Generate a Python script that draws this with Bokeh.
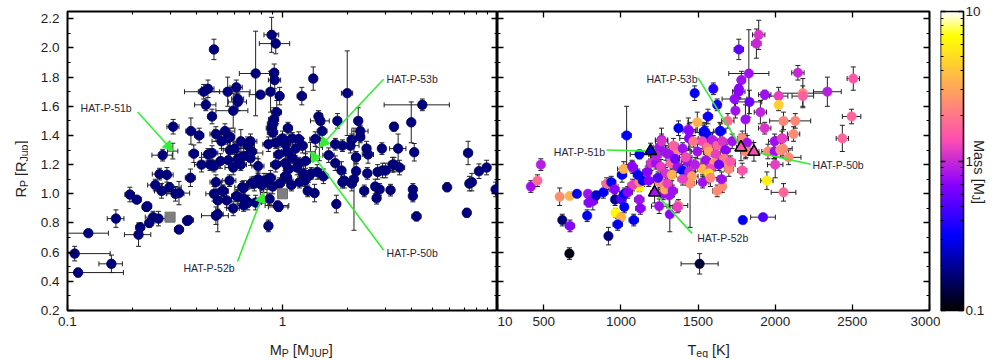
import math
import numpy as np
from bokeh.plotting import figure
from bokeh.layouts import row, column
from bokeh.models import (ColumnDataSource, Whisker, TeeHead, Label, LinearAxis, LogAxis,
                          Range1d, FixedTicker, NumeralTickFormatter, Arrow, NormalHead,
                          LinearColorMapper)
from bokeh.transform import log_cmap
from bokeh.embed import file_html
from bokeh.resources import INLINE

# ---------------- data ----------------
# left panel: radius vs mass of known transiting planets
mass_left = [
    0.89, 0.93, 0.48, 0.75, 0.915, 0.92, 1.39, 2.0, 1.23, 0.45, 0.43, 0.556, 0.61, 0.62, 0.62, 0.79, 0.88, 0.97, 0.44, 4.47,
    0.47, 0.59, 0.94, 0.91, 1.47, 1.50, 1.8, 2.25, 3.97, 0.31, 0.375, 0.41, 0.49, 0.54, 0.57, 0.89, 1.06, 3.3, 2.3, 2.3,
    3.45, 4.1, 7.3, 8.9, 8.2, 0.277, 0.387, 0.268, 0.29, 0.256, 0.274, 0.298, 0.318, 0.33, 0.373, 0.233, 0.25, 0.365,
    0.555, 0.687, 0.42, 0.47, 0.46, 0.515, 0.48, 0.56, 0.59, 0.64, 0.62, 0.66, 0.71, 0.69, 0.72, 0.77, 0.57, 0.45, 0.71, 0.49,
    0.567, 0.53, 0.48, 0.5, 0.55, 0.59, 0.62, 0.66, 0.68, 0.74, 0.77, 0.82,
    0.9, 1.76, 1.9, 2.07, 2.1, 2.46, 1.64, 1.76, 1.88, 2.2, 2.48, 2.77, 2.92, 3.25, 1.45, 1.36, 1.55, 1.94, 2.1, 2.4,
    2.83, 3.18, 2.74, 1.78, 1.31, 1.41, 0.96, 1.27,
    0.86, 0.93, 1.03, 0.96, 1.05, 1.15, 1.24, 1.11, 1.03, 1.19, 1.28, 0.93, 1.07, 1.17, 1.03, 0.86, 0.90, 1.05, 1.25, 1.32,
    0.90, 1.0, 1.11, 1.19, 1.42, 1.53,
    0.52, 0.64, 0.60, 0.71, 2.5, 2.2, 3.3, 3.5, 3.02, 2.9, 7.4,
    0.108, 0.112, 0.125, 0.16, 0.168, 0.195, 0.21, 0.214, 0.218, 0.235, 0.24, 0.265, 0.33, 0.36, 0.49, 0.5, 0.525, 0.61,
    0.65, 0.66, 0.66, 0.69, 0.75, 0.72, 0.87, 0.86, 0.95, 1.9, 2.7, 4.04, 4.04, 4.2, 5.83, 7.2, 7.6, 9.8, 2.15,
    0.80, 0.85, 0.88, 0.97, 1.1, 1.2,
]
radius_left = [
    2.09, 2.03, 1.99, 1.825, 1.83, 1.78, 1.79, 1.69, 1.67, 1.72, 1.70, 1.70, 1.73, 1.65, 1.63, 1.68, 1.70, 1.67, 1.61, 1.61,
    1.53, 1.57, 1.56, 1.51, 1.53, 1.50, 1.50, 1.50, 1.49, 1.46, 1.43, 1.40, 1.41, 1.43, 1.39, 1.45, 1.45, 1.46, 1.43, 1.39,
    1.31, 1.285, 1.28, 1.18, 1.155, 1.265, 1.275, 1.135, 1.13, 1.06, 1.02, 1.045, 1.0, 1.005, 1.11, 0.91, 0.84, 0.82,
    1.38, 1.34, 1.20, 1.28, 1.20, 1.225, 1.19, 1.23, 1.18, 1.20, 1.24, 1.26, 1.245, 1.33, 1.29, 1.19, 1.30, 1.27, 1.36, 1.08,
    1.09, 1.02, 1.0, 0.955, 0.955, 0.90, 0.98, 1.04, 0.95, 1.07, 1.10, 1.09,
    1.48, 1.34, 1.33, 1.33, 1.37, 1.31, 1.265, 1.21, 1.16, 1.155, 1.14, 1.15, 1.16, 1.20, 1.15, 1.14, 1.12, 1.09, 1.07, 1.02,
    1.03, 1.025, 0.97, 0.93, 1.02, 1.005, 0.91, 1.09,
    1.34, 1.35, 1.34, 1.27, 1.29, 1.31, 1.33, 1.245, 1.21, 1.21, 1.225, 1.20, 1.17, 1.18, 1.12, 1.10, 1.05, 1.11, 1.14, 1.12,
    1.42, 1.38, 1.38, 1.375, 1.375, 1.43,
    1.36, 1.36, 1.31, 1.28, 1.27, 1.25, 1.20, 1.18, 1.16, 1.31, 1.07,
    0.59, 0.46, 0.73, 0.52, 0.83, 0.995, 0.96, 0.72, 0.77, 0.915, 0.80, 0.83, 0.755, 0.815, 0.85, 0.86, 1.02, 0.985,
    1.045, 0.965, 0.92, 0.94, 0.94, 1.075, 0.965, 0.78, 0.92, 1.08, 1.05, 1.03, 0.985, 0.845, 1.045, 0.87, 1.08, 1.03, 1.10,
    1.06, 1.08, 1.11, 1.07, 1.06, 1.08,
]
mass_err_left = [
    0.07, 0.15, 0.02, 0.12, 0.04, 0.06, 0.05, 0.12, 0.06, 0.03, 0.08, 0.15, 0.04, 0.04, 0.06, 0.09, 0.04, 0.04, 0.05, 1.5,
    0.02, 0.1, 0.05, 0.05, 0.05, 0.15, 0.07, 0.07, 0.15, 0.02, 0.02, 0.02, 0.03, 0.06, 0.03, 0.05, 0.05, 0.1, 0.2, 0.1,
    0.3, 0.1, 0.3, 0.3, 0.3, 0.03, 0.02, 0.02, 0.02, 0.02, 0.02, 0.04, 0.03, 0.04, 0.02, 0.01, 0.02, 0.02,
    0.04, 0.05, 0.03, 0.03, 0.03, 0.04, 0.03, 0.04, 0.05, 0.04, 0.05, 0.05, 0.06, 0.05, 0.04, 0.05, 0.04, 0.03, 0.05, 0.03,
    0.04, 0.03, 0.04, 0.02, 0.03, 0.04, 0.04, 0.03, 0.04, 0.05, 0.05, 0.04,
    0.05, 0.08, 0.06, 0.2, 0.1, 0.1, 0.1, 0.06, 0.05, 0.08, 0.1, 0.08, 0.1, 0.12, 0.06, 0.05, 0.08, 0.1, 0.1, 0.1,
    0.1, 0.1, 0.1, 0.06, 0.05, 0.05, 0.1, 0.05,
    0.05, 0.06, 0.06, 0.05, 0.06, 0.08, 0.06, 0.05, 0.05, 0.06, 0.07, 0.05, 0.06, 0.05, 0.05, 0.04, 0.05, 0.05, 0.06, 0.07,
    0.05, 0.05, 0.06, 0.06, 0.08, 0.08,
    0.05, 0.05, 0.08, 0.1, 0.15, 0.1, 0.15, 0.2, 0.25, 0.1, 0.3,
    0.05, 0.07, 0.03, 0.02, 0.015, 0.01, 0.01, 0.03, 0.01, 0.01, 0.01, 0.02, 0.015, 0.01, 0.07, 0.03, 0.03, 0.03,
    0.05, 0.03, 0.04, 0.03, 0.05, 0.04, 0.04, 0.03, 0.12, 0.06, 0.1, 0.1, 0.1, 0.2, 0.2, 0.15, 0.2, 0.3, 0.05,
    0.04, 0.04, 0.05, 0.05, 0.05, 0.05,
]
radius_err_left = [
    0.12, 0.07, 0.07, 0.29, 0.06, 0.06, 0.08, 0.29, 0.06, 0.06, 0.05, 0.1, 0.05, 0.08, 0.06, 0.02, 0.14, 0.06, 0.04, 0.04,
    0.05, 0.12, 0.08, 0.08, 0.04, 0.05, 0.05, 0.09, 0.14, 0.05, 0.09, 0.05, 0.05, 0.05, 0.06, 0.04, 0.04, 0.03, 0.04, 0.04,
    0.1, 0.06, 0.08, 0.05, 0.05, 0.04, 0.06, 0.04, 0.05, 0.04, 0.05, 0.03, 0.05, 0.08, 0.06, 0.03, 0.04, 0.02,
    0.04, 0.05, 0.05, 0.05, 0.04, 0.05, 0.04, 0.05, 0.05, 0.04, 0.05, 0.06, 0.05, 0.05, 0.04, 0.05, 0.06, 0.04, 0.05, 0.05,
    0.04, 0.04, 0.05, 0.06, 0.05, 0.05, 0.05, 0.05, 0.04, 0.05, 0.05, 0.05,
    0.04, 0.04, 0.04, 0.05, 0.04, 0.05, 0.05, 0.05, 0.06, 0.05, 0.04, 0.05, 0.05, 0.05, 0.05, 0.04, 0.05, 0.05, 0.05, 0.04,
    0.04, 0.04, 0.04, 0.06, 0.04, 0.06, 0.03, 0.04,
    0.05, 0.04, 0.05, 0.05, 0.04, 0.05, 0.05, 0.04, 0.05, 0.04, 0.05, 0.05, 0.04, 0.05, 0.04, 0.04, 0.05, 0.04, 0.05, 0.04,
    0.05, 0.05, 0.04, 0.05, 0.05, 0.05,
    0.05, 0.08, 0.04, 0.05, 0.06, 0.04, 0.05, 0.05, 0.05, 0.04, 0.05,
    0.05, 0.03, 0.02, 0.06, 0.06, 0.05, 0.02, 0.08, 0.03, 0.02, 0.03, 0.05, 0.02, 0.03, 0.06, 0.12, 0.04, 0.04,
    0.04, 0.04, 0.04, 0.05, 0.05, 0.04, 0.04, 0.04, 0.03, 0.04, 0.05, 0.04, 0.04, 0.03, 0.03, 0.03, 0.06, 0.05, 0.35,
    0.04, 0.05, 0.05, 0.04, 0.04, 0.04,
]

# right panel: radius vs equilibrium temperature, coloured by mass
teq_right = [
    1893, 1878, 1764, 1829, 2147, 2506, 1781, 1764, 1764, 1599, 1478, 1932, 2022, 2179, 2179, 2338, 1736, 1833, 1624, 2022,
    1742, 1904, 1564, 1807, 2054, 2130, 2495, 1495, 1373, 1437, 1538, 1553, 1641, 1693, 1932, 2046, 2119, 2435, 1037, 1263,
    1441, 481, 1076, 1007, 1018, 2000, 1946, 2087, 1990, 2050, 1786, 1700, 1810,
    416, 459, 603, 668, 715, 620, 670, 666, 786, 792, 818, 781, 850, 886, 840, 919, 965, 1001, 979, 962,
    1001, 1022, 1022, 951, 908, 1083, 1119, 1119, 1126, 1248, 1274, 1313, 1317, 1285, 1373, 1366, 1448, 1510, 1624, 1657,
    1790, 1921, 2054,
    1120, 1072, 1249, 1292, 1356, 1313, 1195, 1227, 1259, 1324, 1367, 1399, 1431, 1442, 1264, 1442, 1496, 937, 958, 1076,
    1120, 1141, 1180, 1249, 1302, 1335, 1044,
    1540, 1646, 1721, 1786, 1818, 1996, 2043, 1953, 1996, 2033, 1807, 1700, 1652,
    1528, 1560, 1592, 1624, 1657, 1678, 1570, 1614, 1667, 1549, 1603, 1528, 1581, 1635, 1570, 1710,
    1340, 1400, 1470, 1420, 1480, 1350, 1290, 1230, 1170, 1460, 1400, 1530, 1580, 1240, 1110, 1330,
]
radius_right = [
    2.09, 2.03, 1.99, 1.825, 1.83, 1.79, 1.78, 1.72, 1.70, 1.72, 1.69, 1.68, 1.67, 1.69, 1.67, 1.70, 1.65, 1.63, 1.61, 1.61,
    1.57, 1.56, 1.53, 1.51, 1.50, 1.50, 1.53, 1.49, 1.45, 1.44, 1.42, 1.41, 1.43, 1.50, 1.45, 1.38, 1.41, 1.38, 1.40, 1.37,
    1.38, 1.20, 1.18, 1.13, 1.17, 1.20, 1.09, 1.25, 1.29, 1.31, 1.16, 1.20, 1.30,
    1.05, 1.09, 0.98, 0.985, 1.0, 0.82, 0.78, 0.59, 1.0, 0.94, 0.95, 0.85, 1.04, 1.01, 0.99, 0.71, 0.87, 0.84, 0.79, 0.96,
    0.965, 0.91, 1.0, 1.05, 1.07, 0.82, 1.045, 0.96, 0.90, 0.915, 1.0, 0.99, 0.86, 1.03, 0.92, 0.91, 1.07, 0.52, 1.02, 1.05,
    0.82, 0.84, 1.01,
    1.27, 1.19, 1.32, 1.28, 1.29, 1.27, 1.21, 1.21, 1.185, 1.21, 1.185, 1.16, 1.22, 1.15, 1.36, 1.43, 1.29, 1.08, 1.03, 1.06,
    1.08, 1.09, 1.09, 1.08, 1.07, 1.02, 1.01,
    1.43, 1.43, 1.36, 1.38, 1.35, 1.36, 1.38, 1.29, 1.29, 1.30, 1.29, 1.17, 1.10,
    1.36, 1.32, 1.37, 1.33, 1.36, 1.30, 1.29, 1.27, 1.24, 1.23, 1.21, 1.17, 1.17, 1.20, 1.14, 1.22,
    1.33, 1.31, 1.36, 1.25, 1.20, 1.24, 1.14, 1.26, 1.15, 1.12, 1.10, 1.08, 1.11, 1.11, 1.13, 1.13,
]
teq_err_right = [
    40, 30, 30, 130, 40, 40, 25, 20, 40, 20, 20, 40, 60, 150, 70, 90, 80, 80, 20, 20,
    20, 40, 30, 20, 90, 100, 60, 60, 20, 50, 30, 40, 40, 40, 40, 40, 40, 40, 30, 40,
    60, 20, 30, 30, 40, 50, 40, 80, 40, 60, 30, 40, 30,
    20, 20, 20, 20, 20, 20, 30, 20, 20, 30, 30, 20, 20, 30, 20, 20, 20, 20, 30, 20,
    30, 20, 30, 30, 30, 30, 20, 30, 30, 50, 30, 30, 20, 40, 60, 30, 30, 120, 30, 20,
    20, 80, 80,
    60, 20, 40, 40, 40, 30, 30, 30, 30, 30, 30, 30, 40, 40, 40, 40, 40, 30, 30, 30,
    30, 30, 30, 30, 30, 30, 30,
    30, 30, 40, 30, 40, 40, 40, 40, 40, 40, 30, 30, 30,
    30, 30, 30, 30, 30, 30, 30, 30, 30, 30, 30, 30, 30, 30, 30, 30,
    30, 40, 30, 40, 50, 30, 30, 30, 30, 40, 30, 40, 50, 30, 30, 30,
]
radius_err_right = [
    0.1, 0.1, 0.07, 0.3, 0.05, 0.08, 0.06, 0.06, 0.05, 0.04, 0.05, 0.03, 0.06, 0.1, 0.07, 0.1, 0.06, 0.08, 0.04, 0.04,
    0.05, 0.08, 0.05, 0.1, 0.06, 0.05, 0.05, 0.07, 0.05, 0.08, 0.05, 0.05, 0.06, 0.05, 0.04, 0.1, 0.05, 0.09, 0.2, 0.08,
    0.08, 0.04, 0.04, 0.05, 0.05, 0.09, 0.06, 0.05, 0.05, 0.05, 0.05, 0.05, 0.05,
    0.04, 0.04, 0.06, 0.02, 0.02, 0.04, 0.04, 0.04, 0.02, 0.03, 0.06, 0.04, 0.02, 0.04, 0.03, 0.06, 0.03, 0.03, 0.04, 0.04,
    0.03, 0.04, 0.04, 0.04, 0.04, 0.04, 0.03, 0.03, 0.04, 0.05, 0.04, 0.08, 0.12, 0.03, 0.04, 0.04, 0.3, 0.07, 0.04, 0.04,
    0.02, 0.02, 0.06,
    0.03, 0.04, 0.05, 0.05, 0.05, 0.05, 0.05, 0.04, 0.05, 0.05, 0.04, 0.04, 0.05, 0.05, 0.05, 0.05, 0.05, 0.04, 0.04, 0.04,
    0.04, 0.04, 0.04, 0.04, 0.04, 0.04, 0.04,
    0.05, 0.05, 0.05, 0.05, 0.05, 0.05, 0.05, 0.05, 0.05, 0.05, 0.05, 0.05, 0.05,
    0.05, 0.04, 0.05, 0.04, 0.05, 0.04, 0.05, 0.04, 0.05, 0.04, 0.05, 0.04, 0.05, 0.04, 0.05, 0.04,
    0.05, 0.04, 0.04, 0.05, 0.05, 0.05, 0.04, 0.04, 0.04, 0.04, 0.04, 0.04, 0.06, 0.04, 0.04, 0.04,
]
mass_right = [
    1.1, 1.0, 0.55, 0.8, 1.0, 1.5, 0.8, 0.7, 0.7, 0.4, 0.3, 0.8, 1.2, 2.3, 1.6, 0.9, 0.75, 0.6, 0.35, 4.5,
    0.8, 0.95, 0.35, 0.8, 2.3, 2.3, 1.7, 3.5, 0.3, 0.8, 0.3, 0.3, 0.6, 1.8, 1.1, 0.95, 2.4, 1.7, 0.3, 0.8,
    0.7, 0.9, 0.8, 0.3, 3.4, 1.2, 6.0, 2.4, 1.6, 2.4, 1.5, 2.5, 2.3,
    0.8, 1.8, 2.5, 3.5, 0.3, 0.17, 0.7, 0.11, 0.8, 0.7, 0.7, 0.3, 10.0, 0.3, 0.25, 0.18, 6.5, 3.5, 0.3, 0.2,
    0.5, 0.3, 0.3, 2.5, 1.8, 0.3, 6.0, 0.8, 0.7, 0.8, 0.8, 0.8, 0.7, 3.2, 2.4, 1.2, 2.5, 0.13, 2.4, 2.4,
    0.3, 0.5, 1.7,
    0.3, 0.7, 0.8, 0.8, 2.3, 0.8, 1.1, 0.8, 1.2, 1.7, 0.8, 0.3, 0.8, 1.0, 1.1, 0.7, 0.8, 0.3, 0.7, 1.2,
    2.4, 0.3, 0.7, 2.4, 1.2, 0.8, 0.7,
    0.3, 0.3, 0.8, 2.4, 0.8, 0.8, 1.2, 2.4, 0.8, 2.4, 2.3, 2.4, 0.8,
    1.3, 2.0, 0.9, 1.6, 1.1, 0.7, 3.0, 1.2, 2.0, 0.8, 2.5, 3.5, 1.3, 0.6, 5.0, 1.5,
    1.6, 0.8, 2.0, 1.3, 0.9, 0.6, 1.1, 0.9, 0.7, 2.8, 1.2, 0.8, 2.3, 0.5, 0.3, 3.5,
]

# the four new HATNet planets
hat_names = ["HAT-P-50b", "HAT-P-51b", "HAT-P-52b", "HAT-P-53b"]
hat_mass = [1.350, 0.309, 0.818, 1.484]
hat_mass_err = [0.070, 0.017, 0.029, 0.051]
hat_radius = [1.288, 1.293, 1.009, 1.318]
hat_radius_err = [0.064, 0.054, 0.072, 0.091]
hat_teq = [1862, 1192, 1218, 1778]
hat_teq_err = [33, 21, 24, 28]

# Saturn and Jupiter
solar_mass = [0.30, 1.00]
solar_radius = [0.84, 1.00]

# axis ticks
y_ticks = [0.2, 0.4, 0.6, 0.8, 1.0, 1.2, 1.4, 1.6, 1.8, 2.0, 2.2]
y_minor = [0.3, 0.5, 0.7, 0.9, 1.1, 1.3, 1.5, 1.7, 1.9, 2.1]
mass_ticks = [0.1, 1]
mass_minor = [0.2, 0.3, 0.4, 0.5, 0.6, 0.7, 0.8, 0.9, 2, 3, 4, 5, 6, 7, 8, 9]
teq_ticks = [200, 500, 1000, 1500, 2000, 2500, 3000]
teq_tick_labels = {200: "10"}     # the left panel's "10" label sits on the shared edge
cbar_ticks = [0.1, 1, 10]

assert len(mass_left) == len(radius_left) == len(mass_err_left) == len(radius_err_left)
assert len(teq_right) == len(radius_right) == len(teq_err_right) == len(radius_err_right) == len(mass_right)

# ---------------- styling / layout constants (screen px, page has no margin) ----------------
FONT = "Liberation Sans"
TXT = "#1e1e1e"
ERR = "#222222"
GREEN = "#33ee33"
NAVY = "#00007f"
TICK_FS = "13.5px"


def palette_30_31_32(n=256):
    """gnuplot 'rgbformulae 30,31,32' colour palette (black-blue-violet-pink-yellow-white)."""
    cols = []
    for i in range(n):
        x = i / (n - 1)
        r = x / 0.32 - 0.78125
        g = 2 * x - 0.84
        if x < 0.25:
            b = 4 * x
        elif x < 0.42:
            b = 1.0
        elif x < 0.92:
            b = -2 * x + 1.84
        else:
            b = x / 0.08 - 11.5
        r, g, b = (min(max(v, 0.0), 1.0) for v in (r, g, b))
        cols.append("#%02x%02x%02x" % (round(r * 255), round(g * 255), round(b * 255)))
    return cols


PAL = palette_30_31_32()
Y0, Y1 = 0.2, 2.25
TOP, FRAME_H, BOT = 11, 299, 24           # panel figures: frame from y=11 to y=310
PANEL_H = TOP + FRAME_H + BOT             # 334
STRIP_H = 24                              # axis-title strips below the panels
H_ALL = PANEL_H + STRIP_H                 # 358
W_YT = 28                                 # strip for the rotated y title
W1, W2, W3 = 497 - W_YT, 940 - 497, 56    # left panel, right panel, colour bar


def make_fig(width, left, right, x_range, y_range, x_type="linear", y_type="linear"):
    p = figure(width=width, height=PANEL_H, x_range=x_range, y_range=y_range,
               x_axis_type=x_type, y_axis_type=y_type,
               x_axis_location=None, y_axis_location=None,
               output_backend="svg", toolbar_location=None,
               min_border_left=left, min_border_right=right,
               min_border_top=TOP, min_border_bottom=BOT)
    p.grid.visible = False
    p.outline_line_color = "black"
    p.outline_line_width = 2
    p.outline_line_alpha = 1.0
    p.background_fill_color = "white"
    p.border_fill_color = "white"
    return p


def blank_fig(width, height, x_range=None, y_range=None, y_type="linear"):
    p = figure(width=width, height=height,
               x_range=x_range or Range1d(0, width), y_range=y_range or Range1d(0, height),
               y_axis_type=y_type, x_axis_location=None, y_axis_location=None,
               output_backend="svg", toolbar_location=None,
               min_border_left=0, min_border_right=0, min_border_top=0, min_border_bottom=0)
    p.grid.visible = False
    p.outline_line_color = None
    p.background_fill_color = "white"
    p.border_fill_color = "white"
    return p


def style_axis(ax, labels, standoff=6):
    ax.axis_line_color = None
    ax.major_tick_in = 6
    ax.major_tick_out = 0
    ax.minor_tick_in = 3
    ax.minor_tick_out = 0
    ax.major_tick_line_color = "black"
    ax.minor_tick_line_color = "black"
    ax.major_tick_line_width = 1.3
    ax.minor_tick_line_width = 1.1
    if labels:
        ax.major_label_text_font = FONT
        ax.major_label_text_font_size = TICK_FS
        ax.major_label_text_color = TXT
        ax.major_label_standoff = standoff
    else:
        ax.major_label_text_font_size = "0px"
        ax.major_label_text_color = None
        ax.major_label_standoff = 0
    return ax


WID = {"R": 0.722, "P": 0.667, " ": 0.278, "[": 0.278, "]": 0.278, "J": 0.5, "u": 0.556, "p": 0.556,
       "M": 0.833, "U": 0.722, "T": 0.611, "e": 0.556, "q": 0.556, "K": 0.667, "a": 0.556, "s": 0.5}


def tw(s, size):
    return sum(WID.get(c, 0.556) for c in s) * size


def rich_label(fig, x, y, pieces, angle=0.0, main=14.5, sub=10.5, drop=2.5):
    """Axis title with subscripts built from Label pieces, centred on (x, y)."""
    total = sum(tw(t, sub if s else main) for t, s in pieces)
    pos = -total / 2.0
    ca, sa = math.cos(angle), math.sin(angle)
    for t, s in pieces:
        size = sub if s else main
        lead = len(t) - len(t.lstrip(" "))
        pos += tw(" " * lead, size)          # leading blanks become an offset (SVG drops them)
        t = t.lstrip(" ")
        perp = -drop if s else 0.0
        fig.add_layout(Label(x=x, y=y, x_offset=pos * ca - perp * sa, y_offset=pos * sa + perp * ca,
                             text=t, angle=angle, text_font=FONT, text_font_size=f"{size}px",
                             text_color=TXT, text_align="left", text_baseline="alphabetic"))
        pos += tw(t, size)


def plain_label(fig, x, y, text, x_off=0, y_off=0, size="10.5px", align="left", baseline="middle", color="#26263a"):
    fig.add_layout(Label(x=x, y=y, x_offset=x_off, y_offset=y_off, text=text,
                         text_font=FONT, text_font_size=size, text_color=color,
                         text_align=align, text_baseline=baseline))


def whiskers(fig, src, xcol, lo_x, hi_x):
    head = dict(size=5, line_color=ERR, line_width=1)
    fig.add_layout(Whisker(source=src, base="r", lower=lo_x, upper=hi_x, dimension="width",
                           line_color=ERR, line_width=1,
                           upper_head=TeeHead(**head), lower_head=TeeHead(**head)))
    fig.add_layout(Whisker(source=src, base=xcol, lower="rlo", upper="rhi", dimension="height",
                           line_color=ERR, line_width=1,
                           upper_head=TeeHead(**head), lower_head=TeeHead(**head)))


# ---------------- left panel: R vs M ----------------
p1 = make_fig(W1, 67 - W_YT, 0, Range1d(0.1, 10), Range1d(Y0, Y1), x_type="log")
p1.add_layout(style_axis(LogAxis(ticker=FixedTicker(ticks=mass_ticks, minor_ticks=mass_minor),
                                 formatter=NumeralTickFormatter(format="0.[0]")), True, 6), "below")
p1.add_layout(style_axis(LinearAxis(ticker=FixedTicker(ticks=y_ticks, minor_ticks=y_minor),
                                    formatter=NumeralTickFormatter(format="0.0")), True, 8), "left")
p1.add_layout(style_axis(LogAxis(fixed_location=Y1, ticker=FixedTicker(ticks=mass_ticks, minor_ticks=mass_minor)), False), "above")
p1.add_layout(style_axis(LinearAxis(fixed_location=10, ticker=FixedTicker(ticks=y_ticks, minor_ticks=y_minor)), False), "right")

mL = np.array(mass_left); rL = np.array(radius_left)
dmL = np.array(mass_err_left); drL = np.array(radius_err_left)
srcL = ColumnDataSource(dict(m=mL, r=rL, mlo=mL - dmL, mhi=mL + dmL, rlo=rL - drL, rhi=rL + drL))
hm = np.array(hat_mass); hr = np.array(hat_radius); hme = np.array(hat_mass_err); hre = np.array(hat_radius_err)
ht = np.array(hat_teq); hte = np.array(hat_teq_err)
srcH = ColumnDataSource(dict(name=hat_names, m=hm, r=hr, t=ht, mass=hm,
                             mlo=hm - hme, mhi=hm + hme, rlo=hr - hre, rhi=hr + hre, tlo=ht - hte, thi=ht + hte))

whiskers(p1, srcL, "m", "mlo", "mhi")
whiskers(p1, srcH, "m", "mlo", "mhi")
p1.scatter("m", "r", source=srcL, marker="circle", size=9.5, fill_color=NAVY, line_color="#000060", line_width=0.8)
p1.scatter(solar_mass, solar_radius, marker="square", size=10, fill_color="#7f7f7f", line_color="#6f6f6f")

left_annot = {  # label anchor (M, R) and arrow start (M, R)
    "HAT-P-50b": ((3.05, 0.592), (2.95, 0.615)),
    "HAT-P-51b": ((0.115, 1.588), (0.212, 1.561)),
    "HAT-P-52b": ((0.346, 0.489), (0.618, 0.537)),
    "HAT-P-53b": ((3.05, 1.788), (2.95, 1.785)),
}
for i, nm in enumerate(hat_names):
    (lx, ly), (sx, sy) = left_annot[nm]
    p1.add_layout(Arrow(x_start=sx, y_start=sy, x_end=hat_mass[i], y_end=hat_radius[i],
                        line_color=GREEN, line_width=1.6,
                        end=NormalHead(size=10, fill_color=GREEN, line_color=GREEN)))
    plain_label(p1, lx, ly, nm)

# ---------------- right panel: R vs Teq ----------------
p2 = make_fig(W2, 0, 940 - 929, Range1d(200, 3000), Range1d(Y0, Y1))
bx = style_axis(LinearAxis(ticker=FixedTicker(ticks=teq_ticks),
                           formatter=NumeralTickFormatter(format="0")), True, 6)
bx.major_label_overrides = teq_tick_labels
p2.add_layout(bx, "below")
p2.add_layout(style_axis(LinearAxis(fixed_location=200, ticker=FixedTicker(ticks=y_ticks, minor_ticks=y_minor)), False), "left")
p2.add_layout(style_axis(LinearAxis(fixed_location=Y1, ticker=FixedTicker(ticks=teq_ticks)), False), "above")
p2.add_layout(style_axis(LinearAxis(fixed_location=3000, ticker=FixedTicker(ticks=y_ticks, minor_ticks=y_minor)), False), "right")

tR = np.array(teq_right); rR = np.array(radius_right)
dtR = np.array(teq_err_right); drR = np.array(radius_err_right)
srcR = ColumnDataSource(dict(t=tR, r=rR, mass=np.array(mass_right),
                             tlo=tR - dtR, thi=tR + dtR, rlo=rR - drR, rhi=rR + drR))
whiskers(p2, srcR, "t", "tlo", "thi")
whiskers(p2, srcH, "t", "tlo", "thi")
cmap = log_cmap("mass", PAL, 0.1, 10)
p2.scatter("t", "r", source=srcR, marker="circle", size=9.5, fill_color=cmap, line_color=cmap, line_width=0.5)

right_annot = {  # label anchor (Teq, R) and line start (Teq, R)
    "HAT-P-50b": ((2242, 1.197), (2229, 1.203)),
    "HAT-P-51b": ((565, 1.286), (906, 1.300)),
    "HAT-P-52b": ((1494, 0.695), (1461, 0.729)),
    "HAT-P-53b": ((1165, 1.788), (1500, 1.795)),
}
p2.segment(x0=[right_annot[n][1][0] for n in hat_names], y0=[right_annot[n][1][1] for n in hat_names],
           x1=hat_teq, y1=hat_radius, line_color=GREEN, line_width=1.6)
p2.scatter("t", "r", source=srcH, marker="triangle", size=12, fill_color=cmap, line_color="black", line_width=1.6)
for nm in hat_names:
    (lx, ly), _ = right_annot[nm]
    plain_label(p2, lx, ly, nm)

# ---------------- colour bar (its frame fills its canvas) ----------------
CB_X0 = 940                 # screen x of the bar's left edge
CB_W = 23                   # bar width in px
PX_PER_DEC = FRAME_H / 2.0  # 0.1 .. 10 spans the panel height


def cb_y(screen_y):         # screen y -> value on the colour bar's log axis
    return 10 ** (1 - (screen_y - TOP) / PX_PER_DEC)


def cb_x(screen_x):
    return (screen_x - CB_X0) / CB_W


p3 = blank_fig(W3, H_ALL, x_range=Range1d(0, W3 / CB_W), y_range=Range1d(cb_y(H_ALL), cb_y(0)), y_type="log")
grad = np.arange(256, dtype=float).reshape(256, 1)
p3.image(image=[grad], x=0, y=0.1, dw=1, dh=9.9, color_mapper=LinearColorMapper(palette=PAL, low=0, high=255))
p3.quad(left=0, right=1, bottom=0.1, top=10, fill_color=None, line_color="black", line_width=1.6)
cax_r = style_axis(LogAxis(fixed_location=1, ticker=FixedTicker(ticks=cbar_ticks, minor_ticks=mass_minor),
                           formatter=NumeralTickFormatter(format="0.[0]")), True, 2)
cax_l = style_axis(LogAxis(fixed_location=0, ticker=FixedTicker(ticks=cbar_ticks, minor_ticks=mass_minor)), False)
for ax in (cax_r, cax_l):
    ax.major_tick_in = 5
    ax.minor_tick_in = 3
p3.add_layout(cax_r, "right")
p3.add_layout(cax_l, "left")
rich_label(p3, cb_x(978), cb_y(171.5), [("Mass [M", False), ("J", True), ("]", False)], angle=-math.pi / 2)

# ---------------- axis-title strips ----------------
fy = blank_fig(W_YT, H_ALL)
rich_label(fy, 20.5, H_ALL - 168.5, [("R", False), ("P", True), (" [R", False), ("Jup", True), ("]", False)],
           angle=math.pi / 2)
fx1 = blank_fig(W1, STRIP_H)
rich_label(fx1, 283 - W_YT, H_ALL - 349.5, [("M", False), ("P", True), (" [M", False), ("JUP", True), ("]", False)])
fx2 = blank_fig(W2, STRIP_H)
rich_label(fx2, 713.5 - 497, H_ALL - 349.5, [("T", False), ("eq", True), (" [K]", False)])

layout = row(fy, column(p1, fx1), column(p2, fx2), p3)
open("out.html", "w").write(file_html(layout, INLINE))
